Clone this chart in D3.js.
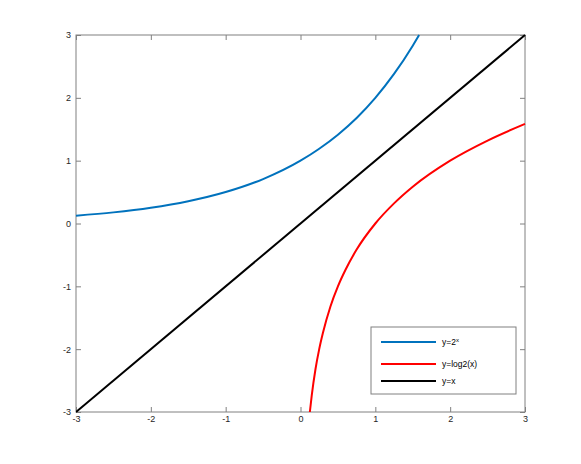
<!DOCTYPE html>
<html>
<head>
<meta charset="utf-8">
<script src="https://cdn.jsdelivr.net/npm/d3@7"></script>
<style>
body { margin: 0; background: #fff; }
svg text { font-family: "Liberation Sans", Arial, sans-serif; }
</style>
</head>
<body>
<svg id="chart"></svg>
<script>
// values
var expX = [-3, -2.5, -2, -1.5, -1, -0.5, 0, 0.25, 0.5, 0.75, 1, 1.25, 1.5, 1.585];
var expY = [0.125, 0.177, 0.25, 0.354, 0.5, 0.707, 1, 1.19, 1.414, 1.68, 2, 2.38, 2.83, 3];
var logX = [0.125, 0.15, 0.2, 0.25, 0.3, 0.4, 0.5, 0.6, 0.75, 1, 1.25, 1.5, 2, 2.5, 3];
var logY = [-3, -2.74, -2.32, -2, -1.74, -1.32, -1, -0.74, -0.415, 0, 0.32, 0.585, 1, 1.32, 1.585];
var idX = [-3, 3];
var idY = [-3, 3];
var tickVals = [-3, -2, -1, 0, 1, 2, 3];
var legendNames = ["y=2", "y=log2(x)", "y=x"];

var width = 581;
var height = 464;
var svg = d3.select("#chart")
	.attr("width", width)
	.attr("height", height);

var mLeft = 76, mRight = 525, mTop = 35, mBottom = 412;

var xScale = d3.scaleLinear().domain([-3, 3]).range([mLeft, mRight]);
var yScale = d3.scaleLinear().domain([-3, 3]).range([mBottom, mTop]);

var axisColor = "#808080";
var fmt = function(d) { return String(d); };

// ticks, inward on all four sides
var tickLen = 5;
var xb = d3.axisBottom(xScale).tickValues(tickVals).tickSize(-tickLen).tickPadding(4).tickFormat(fmt);
var yl = d3.axisLeft(yScale).tickValues(tickVals).tickSize(-tickLen).tickPadding(5).tickFormat(fmt);
var xt = d3.axisTop(xScale).tickValues(tickVals).tickSize(-tickLen).tickFormat("");
var yr = d3.axisRight(yScale).tickValues(tickVals).tickSize(-tickLen).tickFormat("");

function styleAxis(g) {
	g.select(".domain").remove();
	g.selectAll(".tick line").attr("stroke", axisColor);
	g.selectAll(".tick text").attr("fill", "#262626").attr("font-size", "9px");
}
svg.append("g").attr("transform", "translate(0," + mBottom + ")").call(xb).call(styleAxis);
svg.append("g").attr("transform", "translate(" + mLeft + ",0)").call(yl).call(styleAxis);
svg.append("g").attr("transform", "translate(0," + mTop + ")").call(xt).call(styleAxis);
svg.append("g").attr("transform", "translate(" + mRight + ",0)").call(yr).call(styleAxis);

// box
svg.append("rect")
	.attr("x", mLeft).attr("y", mTop)
	.attr("width", mRight - mLeft).attr("height", mBottom - mTop)
	.attr("fill", "none")
	.attr("stroke", axisColor)
	.attr("stroke-width", 1);

svg.append("clipPath").attr("id", "plotclip")
	.append("rect")
	.attr("x", mLeft).attr("y", mTop - 2)
	.attr("width", mRight - mLeft + 2).attr("height", mBottom - mTop + 4);

var series = [
	{ xs: expX, ys: expY, color: "#0072BD", curve: d3.curveMonotoneX },
	{ xs: logX, ys: logY, color: "#FF0000", curve: d3.curveMonotoneX },
	{ xs: idX, ys: idY, color: "#000000", curve: d3.curveLinear }
];

var plot = svg.append("g").attr("clip-path", "url(#plotclip)");
series.forEach(function(s) {
	var pts = s.xs.map(function(x, i) { return [x, s.ys[i]]; });
	var line = d3.line()
		.x(function(d) { return xScale(d[0]); })
		.y(function(d) { return yScale(d[1]); })
		.curve(s.curve);
	plot.append("path")
		.datum(pts)
		.attr("d", line)
		.attr("fill", "none")
		.attr("stroke", s.color)
		.attr("stroke-width", 2);
});

// legend
var legend = svg.append("g");
legend.append("rect")
	.attr("x", 371).attr("y", 327)
	.attr("width", 145).attr("height", 67)
	.attr("fill", "#fff")
	.attr("stroke", axisColor)
	.attr("stroke-width", 1);
var legendY = [342, 364, 381];
series.forEach(function(s, i) {
	legend.append("line")
		.attr("x1", 381).attr("x2", 436)
		.attr("y1", legendY[i]).attr("y2", legendY[i])
		.attr("stroke", s.color)
		.attr("stroke-width", 2);
	var t = legend.append("text")
		.attr("x", 442).attr("y", legendY[i] + 3)
		.attr("font-size", "8.5px")
		.attr("fill", "#000")
		.text(legendNames[i]);
	if (i == 0) {
		t.append("tspan")
			.attr("dy", -3.5)
			.attr("font-size", "6px")
			.text("x");
	}
});
</script>
</body>
</html>
